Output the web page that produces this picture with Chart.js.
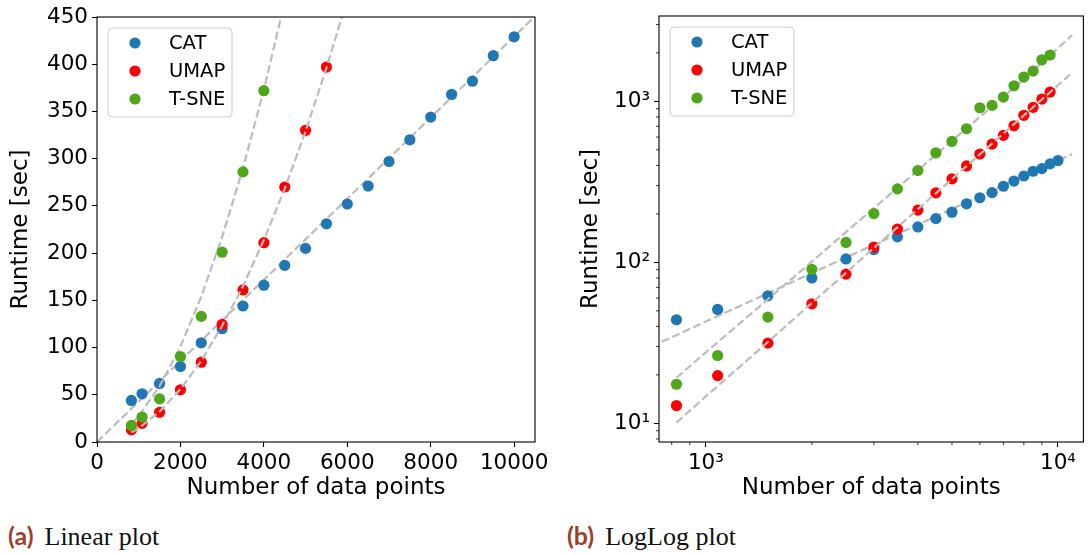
<!DOCTYPE html>
<html>
<head>
<meta charset="utf-8">
<script src="https://cdn.jsdelivr.net/npm/chart.js@4.4.1/dist/chart.umd.min.js"></script>
<style>
  html, body { margin: 0; padding: 0; background: #fff; }
  body { width: 1089px; height: 555px; position: relative; overflow: hidden; }
  canvas { position: absolute; top: 0; }
  #linearChart { left: 0; }
  #loglogChart { left: 570px; }
  .caption { position: absolute; top: 520px; font-family: "Liberation Serif", serif; font-size: 26px; line-height: 30px; color: #111; white-space: nowrap; }
  .caption b { font-family: Lato, "Open Sans", sans-serif; font-weight: 700; font-size: 25px; color: #9c3f2a; margin-right: 11px; }
</style>
</head>
<body>
<canvas id="linearChart" width="556" height="510"></canvas>
<canvas id="loglogChart" width="519" height="510"></canvas>
<div class="caption" style="left:8px"><b>(a)</b>Linear plot</div>
<div class="caption" style="left:567px"><b>(b)</b>LogLog plot</div>
<script>
const colors = {
  cat: "#1f77b4",
  umap: "#ff0000",
  tsne: "#4ea61b",
  fit: "#bcbcbc",
  ink: "#000000",
};

// measured runtimes (sec) per number of data points
const sizes = [825, 1080, 1500, 2000, 2500, 3000, 3500, 4000, 4500, 5000,
  5500, 6000, 6500, 7000, 7500, 8000, 8500, 9000, 9500, 10000];
const catRuntime = [44, 51, 62, 80, 105, 120, 144, 166, 187, 205,
  231, 252, 271, 297, 320, 344, 368, 382, 409, 429];
const umapRuntime = [12.9, 19.8, 31.5, 55.3, 84.5, 124.5, 161, 211, 270, 330,
  397, 471, 543, 615, 705, 819, 918, 1033, 1142];
const tsneRuntime = [17.5, 26.4, 45.7, 90.5, 133, 201, 286, 372, 479, 565,
  676, 913, 944, 1063, 1250, 1416, 1543, 1812, 1941];

// dashed fit curves
const catFitSizes = [0, 700, 10970];
const catFitRuntime = [0, 30, 471];
const umapFitSizes = [825, 1000, 1500, 2000, 2500, 3000, 3500, 4000, 4500, 5000,
  5500, 6000, 7000, 8000, 9000, 10000, 10970];
const umapFitRuntime = [10.1, 14.7, 32, 56, 86, 123, 165, 214, 268, 329,
  396, 469, 631, 818, 1027, 1260, 1505];
const tsneFitSizes = [825, 1000, 1500, 2000, 2500, 3000, 3500, 4000, 4500, 5000,
  6000, 7000, 8000, 9000, 10000, 10970];
const tsneFitRuntime = [19.2, 27.6, 59, 101, 154, 217, 290, 373, 466, 569,
  800, 1069, 1374, 1740, 2140, 2580];

const linearXTicks = [0, 2000, 4000, 6000, 8000, 10000];
const linearYTicks = [0, 50, 100, 150, 200, 250, 300, 350, 400, 450];
const logXTicks = [1000, 10000];
const logXLabels = ["10³", "10⁴"];
const logYTicks = [10, 100, 1000];
const logYLabels = ["10¹", "10²", "10³"];

Chart.defaults.font.family = "'DejaVu Sans', sans-serif";
Chart.defaults.color = colors.ink;

function points(xs, ys, log) {
  return xs.map((x, i) => ({ x, y: ys[i] })).filter((p) => !log || p.x > 0);
}

function datasets(log) {
  const fit = (xs, ys, order) => ({
    data: points(xs, ys, log),
    showLine: true,
    borderColor: colors.fit,
    borderWidth: 2.2,
    borderDash: [8, 3.5],
    pointRadius: 0,
    pointHoverRadius: 0,
    order,
    clip: 0,
  });
  const dots = (label, ys, color, order) => ({
    label,
    data: points(sizes.slice(0, ys.length), ys, log),
    backgroundColor: color,
    borderColor: color,
    borderWidth: 0,
    pointRadius: 5.6,
    pointHoverRadius: 5.6,
    order,
    clip: 0,
  });
  return [
    fit(catFitSizes, catFitRuntime, 6),
    dots("CAT", catRuntime, colors.cat, 5),
    dots("UMAP", umapRuntime, colors.umap, 4),
    fit(umapFitSizes, umapFitRuntime, 3),
    fit(tsneFitSizes, tsneFitRuntime, 2),
    dots("T-SNE", tsneRuntime, colors.tsne, 1),
  ];
}

function axis(type, min, max, ticks, labels, title, size) {
  return {
    type,
    min,
    max,
    afterBuildTicks: (scale) => {
      scale.ticks = ticks.map((value) => ({ value }));
    },
    afterFit: (scale) => {
      if (scale.isHorizontal()) {
        scale.height = size;
      } else {
        scale.width = size;
      }
      scale.paddingLeft = 0;
      scale.paddingRight = 0;
      scale.paddingTop = 0;
      scale.paddingBottom = 0;
    },
    ticks: {
      autoSkip: false,
      maxRotation: 0,
      padding: 4,
      color: colors.ink,
      font: { size: 21.5 },
      callback: (value, index) => (labels ? labels[index] : String(value)),
    },
    grid: { drawOnChartArea: false, tickLength: 5, tickColor: colors.ink, tickWidth: 1.1 },
    border: { display: false },
    title: { display: true, text: title, color: colors.ink, font: { size: 23 }, padding: { top: 4, bottom: 4 } },
  };
}

const framePlugin = {
  id: "frameAndLegend",
  afterDatasetsDraw(chart, args, opts) {
    const { ctx, chartArea: a } = chart;
    ctx.save();

    if (opts.minorTicks) {
      ctx.strokeStyle = colors.ink;
      ctx.lineWidth = 0.8;
      ["x", "y"].forEach((id) => {
        const scale = chart.scales[id];
        for (let e = Math.floor(Math.log10(scale.min)); e <= Math.ceil(Math.log10(scale.max)); e++) {
          for (let m = 2; m <= 9; m++) {
            const v = m * Math.pow(10, e);
            if (v < scale.min || v > scale.max) continue;
            const p = scale.getPixelForValue(v);
            ctx.beginPath();
            if (id === "x") {
              ctx.moveTo(p, a.bottom);
              ctx.lineTo(p, a.bottom + 3);
            } else {
              ctx.moveTo(a.left - 3, p);
              ctx.lineTo(a.left, p);
            }
            ctx.stroke();
          }
        }
      });
    }

    ctx.strokeStyle = colors.ink;
    ctx.lineWidth = 1.1;
    ctx.strokeRect(a.left, a.top, a.right - a.left, a.bottom - a.top);

    // legend box in the upper left corner
    const items = chart.data.datasets.filter((d) => d.label);
    const x0 = a.left + 11;
    const y0 = a.top + 11;
    ctx.beginPath();
    ctx.roundRect(x0, y0, 124, 89, 4);
    ctx.fillStyle = "rgba(255,255,255,0.8)";
    ctx.fill();
    ctx.strokeStyle = "#cccccc";
    ctx.lineWidth = 1;
    ctx.stroke();
    ctx.font = "19.5px 'DejaVu Sans'";
    ctx.textBaseline = "middle";
    items.forEach((d, i) => {
      const cy = y0 + 15 + i * 28;
      ctx.beginPath();
      ctx.arc(x0 + 27, cy, 5.6, 0, Math.PI * 2);
      ctx.fillStyle = d.backgroundColor;
      ctx.fill();
      ctx.fillStyle = colors.ink;
      ctx.fillText(d.label, x0 + 61, cy + 1);
    });
    ctx.restore();
  },
};

function makeChart(id, log, padding) {
  return new Chart(document.getElementById(id), {
    type: "scatter",
    data: { datasets: datasets(log) },
    plugins: [framePlugin],
    options: {
      responsive: false,
      devicePixelRatio: 1,
      animation: false,
      layout: { padding },
      plugins: {
        legend: { display: false },
        tooltip: { enabled: false },
        frameAndLegend: { minorTicks: log },
      },
      scales: log
        ? {
            x: axis("logarithmic", 736, 11810, logXTicks, logXLabels, "Number of data points", 64),
            y: axis("logarithmic", 7.66, 3390, logYTicks, logYLabels, "Runtime [sec]", 86),
          }
        : {
            x: axis("linear", 0, 10500, linearXTicks, null, "Number of data points", 64),
            y: axis("linear", 0, 450, linearYTicks, null, "Runtime [sec]", 94),
          },
    },
  });
}

makeChart("linearChart", false, { left: 3, right: 21, top: 17, bottom: 4 });
makeChart("loglogChart", true, { left: 3, right: 1, top: 16, bottom: 4 });
</script>
</body>
</html>
